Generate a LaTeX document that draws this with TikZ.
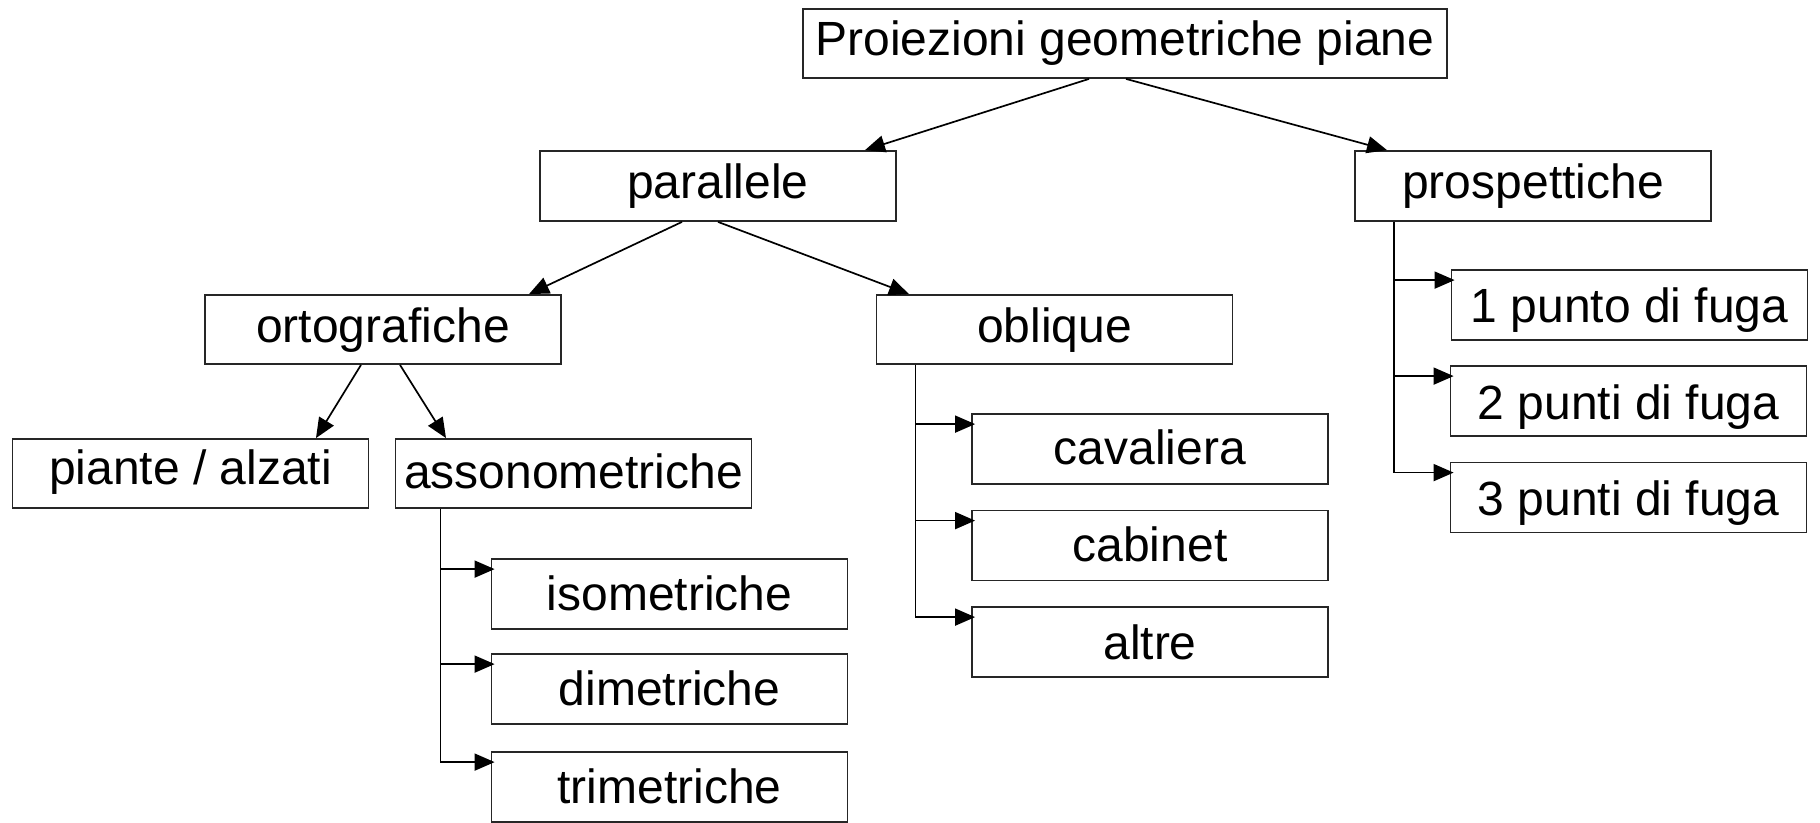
\documentclass[tikz,border=0pt]{standalone}
\usepackage{fontspec}
\setmainfont{Liberation Sans}
\usetikzlibrary{arrows.meta}
\begin{document}
\begin{tikzpicture}[x=1pt,y=-1pt,
  box/.style={draw=black!85, line width=1.8pt, minimum width=356pt, minimum height=70pt,
    inner sep=0pt, text height=35pt, text depth=10pt, font=\fontsize{48}{56}\selectfont},
  arr/.style={line width=1.7pt, -{Triangle[length=20pt,width=17pt]}},
  sarr/.style={arr, shorten >=-4pt}]
\useasboundingbox (0,0) rectangle (1820,822);
\node[box, minimum width=644pt, minimum height=69pt, text depth=12pt] (title) at (1125,43.5) {Proiezioni geometriche piane};
\node[box] (par) at (718,186) {parallele};
\node[box] (pro) at (1533,186) {prospettiche};
\node[box, minimum height=69pt] (ort) at (383,329.5) {ortografiche};
\node[box, minimum height=69pt] (obl) at (1054.5,329.5) {oblique};
\node[box, minimum height=69pt, text depth=13pt] (pia) at (190.5,473.5) {piante / alzati};
\node[box, minimum height=69pt, text depth=5pt] (ass) at (573.5,473.5) {assonometriche};
\node[box, text depth=0pt, text height=32pt] (iso) at (669.5,594) {isometriche};
\node[box, text depth=0pt, text height=32pt] (dim) at (669.5,689) {dimetriche};
\node[box, text depth=0pt, text height=32pt] (tri) at (669.5,787) {trimetriche};
\node[box, text depth=5pt] (cav) at (1150,449) {cavaliera};
\node[box, text depth=3pt] (cab) at (1150,545.5) {cabinet};
\node[box, text depth=1pt] (alt) at (1150,642) {altre};
\node[box, text depth=0pt, text height=35pt] (p1) at (1629.5,305) {1 punto di fuga};
\node[box, text depth=0pt, text height=37pt] (p2) at (1628.5,401) {2 punti di fuga};
\node[box, text depth=0pt, text height=35pt] (p3) at (1628.5,497.5) {3 punti di fuga};
% tree arrows
\draw[arr] ([xshift=-36pt]title.south) -- ([xshift=147pt]par.north);
\draw[arr] ([xshift=1pt]title.south) -- ([xshift=-146pt]pro.north);
\draw[arr] ([xshift=-36pt]par.south) -- ([xshift=146pt]ort.north);
\draw[arr] (par.south) -- ([xshift=-145.5pt]obl.north);
\draw[arr] ([xshift=-22pt]ort.south) -- ([xshift=125.5pt]pia.north);
\draw[arr] ([xshift=17pt]ort.south) -- ([xshift=-127.5pt]ass.north);
% branch arrows
\foreach \c in {iso,dim,tri}
  \draw[sarr] ([xshift=46pt]ass.south west) |- ([yshift=-11pt]\c.north west);
\foreach \c in {cav,cab,alt}
  \draw[sarr] ([xshift=40pt]obl.south west) |- ([yshift=-11pt]\c.north west);
\foreach \c in {p1,p2,p3}
  \draw[sarr] ([xshift=40pt]pro.south west) |- ([yshift=-11pt]\c.north west);
\end{tikzpicture}
\end{document}
